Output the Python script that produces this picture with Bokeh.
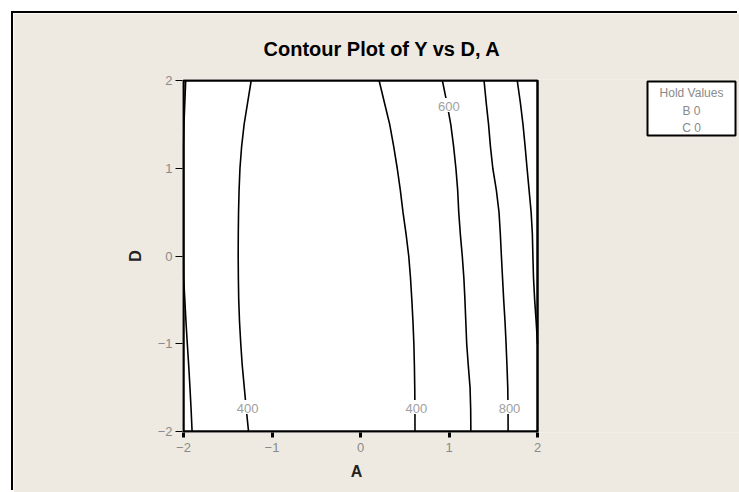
import numpy as np
from bokeh.plotting import figure
from bokeh.models import Label, FixedTicker, Range1d, ColumnDataSource, Title
from bokeh.core.properties import value
from bokeh.embed import file_html
from bokeh.resources import INLINE

# Contours of the fitted response Y over factors A (x) and D (y); B and C held at 0.
d_grid = [2.0, 1.75, 1.5, 1.25, 1.0, 0.75, 0.5, 0.25, 0.0,
          -0.25, -0.5, -0.75, -1.0, -1.25, -1.5, -1.75, -2.0]

a_600_left = [-1.975, -1.985, -1.995, -2.003, -2.008, -2.010, -2.010, -2.008, -2.004,
              -1.998, -1.985, -1.972, -1.957, -1.941, -1.927, -1.914, -1.903]
a_400_left = [-1.235, -1.275, -1.315, -1.343, -1.362, -1.372, -1.378, -1.381, -1.382,
              -1.380, -1.376, -1.367, -1.353, -1.336, -1.313, -1.290, -1.265]
a_400_right = [0.210, 0.270, 0.330, 0.375, 0.415, 0.450, 0.480, 0.515, 0.545,
               0.565, 0.580, 0.593, 0.603, 0.609, 0.613, 0.615, 0.616]
a_600_right = [0.925, 0.975, 1.020, 1.052, 1.078, 1.098, 1.110, 1.128, 1.150,
               1.168, 1.180, 1.190, 1.200, 1.218, 1.238, 1.245, 1.247]
a_800 = [1.396, 1.420, 1.447, 1.468, 1.495, 1.535, 1.565, 1.580, 1.592,
         1.605, 1.618, 1.633, 1.645, 1.655, 1.664, 1.667, 1.668]
# the 1000 contour leaves the region through the right edge near D = -1
a_1000 = [1.771, 1.806, 1.836, 1.860, 1.882, 1.905, 1.928, 1.942, 1.948,
          1.955, 1.968, 1.985, 2.000, None, None, None, None]

contour_levels = [600, 400, 400, 600, 800, 1000]
contour_a = [a_600_left, a_400_left, a_400_right, a_600_right, a_800, a_1000]

# which contours carry an inline level label, and at what D
labelled_contours = [1, 2, 3, 4]
label_d = [-1.72, -1.72, 1.72, -1.72]

a_ticks = [-2, -1, 0, 1, 2]
d_ticks = [-2, -1, 0, 1, 2]

hold_factors = ["B", "C"]
hold_values = [0, 0]

# ---- layout (pixels) ----
BG = "#EEEAE1"
FONT = "Liberation Sans"
FIG_W, FIG_H = 726, 479
PLOT_W, PLOT_H = 354, 351          # size of the A/D square in pixels
PAD = 1                            # frame slack so the square's border is not clipped
LEFT, TOP = 169, 66                # frame origin inside the figure
FRAME_W = FIG_W - LEFT             # frame runs on to the right edge (room for the box)
FRAME_H = PLOT_H + 2 * PAD
SX = PLOT_W / 4.0                  # pixels per unit of A
SY = PLOT_H / 4.0                  # pixels per unit of D

x_lo = -2 - PAD / SX
x_hi = x_lo + FRAME_W / SX
y_lo = -2 - PAD / SY
y_hi = y_lo + FRAME_H / SY

p = figure(width=FIG_W, height=FIG_H,
           x_range=Range1d(x_lo, x_hi), y_range=Range1d(y_lo, y_hi),
           output_backend="svg", toolbar_location=None,
           min_border_left=LEFT, min_border_right=0,
           min_border_top=TOP, min_border_bottom=FIG_H - TOP - FRAME_H,
           background_fill_color=BG, border_fill_color=BG,
           outline_line_color=None)
p.styles = {"margin-left": "13px", "margin-top": "13px",
            "box-shadow": "-2px -2px 0 0 #000000"}
p.grid.visible = False

# white plotting square with black border
p.quad(left=[-2], right=[2], bottom=[-2], top=[2],
       fill_color="white", line_color="black", line_width=2)

for a_vals in contour_a:
    a_arr = np.array([np.nan if v is None else v for v in a_vals], dtype=float)
    a_arr = np.clip(a_arr, -2, 2)
    src = ColumnDataSource(data=dict(a=a_arr, d=np.array(d_grid, dtype=float)))
    p.line("a", "d", source=src, line_color="black", line_width=1.6)

# redraw the square's border over the contour ends
p.quad(left=[-2], right=[2], bottom=[-2], top=[2],
       fill_color=None, line_color="black", line_width=2)

# inline contour labels, with a white box that breaks the line
d_inc = np.array(d_grid[::-1])
for idx, dl in zip(labelled_contours, label_d):
    a_vals = np.array([np.nan if v is None else v for v in contour_a[idx]][::-1])
    a_at = float(np.interp(dl, d_inc, a_vals))
    p.add_layout(Label(x=a_at, y=dl, text=str(contour_levels[idx]),
                       text_align="center", text_baseline="middle",
                       text_font=FONT, text_font_size="13px", text_color="#a0a0a0",
                       background_fill_color="white", padding=(4, 1, 4, 1)))

# axes: lines hidden (the square's border stands in for them)
p.xaxis.ticker = FixedTicker(ticks=a_ticks)
p.yaxis.ticker = FixedTicker(ticks=d_ticks)
p.yaxis.axis_label = "D"
for ax in (p.xaxis[0], p.yaxis[0]):
    ax.bounds = (-2, 2)
    ax.axis_line_color = None
    ax.minor_tick_line_color = None
    ax.major_tick_in = 0
    ax.major_tick_line_color = "black"
    ax.major_label_text_color = "#8a8a8a"
    ax.major_label_text_font = FONT
    ax.major_label_text_font_size = "13px"
    ax.axis_label_text_font = FONT
    ax.axis_label_text_font_style = "bold"
    ax.axis_label_text_font_size = "16px"
    ax.axis_label_text_color = "#222222"
p.xaxis.major_tick_out = 5
p.xaxis.major_tick_line_width = 3
p.xaxis.major_label_standoff = 5
p.yaxis.major_tick_out = 7
p.yaxis.major_tick_line_width = 1
p.yaxis.major_label_standoff = 3
p.yaxis.axis_label_standoff = 11

# x-axis name, set under the tick labels and centred on the square
A_W = 11.6  # approximate width of the bold "A"
p.add_layout(Title(text="A", align="left", vertical_align="top",
                   offset=PAD + PLOT_W / 2 - 4 - A_W / 2, standoff=16,
                   text_font=FONT, text_font_style="bold", text_font_size="16px",
                   text_color="#222222"), "below")

# chart title
p.title.text = "Contour Plot of Y vs D, A"
p.title.align = "left"
p.title.vertical_align = "bottom"
p.title.offset = 81
p.title.standoff = 40
p.title.text_font = FONT
p.title.text_font_style = "bold"
p.title.text_font_size = "20px"
p.title.text_color = "black"

# hold-values box to the right of the square
BOX_GAP, BOX_W, BOX_TOP, BOX_H = 110, 88, 1, 54
bx0 = 2 + BOX_GAP / SX
bx1 = bx0 + BOX_W / SX
by1 = 2 - BOX_TOP / SY
by0 = by1 - BOX_H / SY
p.quad(left=[bx0], right=[bx1], bottom=[by0], top=[by1],
       fill_color="white", line_color="black", line_width=2)
hold_lines = ["Hold Values"] + [f"{f} {v}" for f, v in zip(hold_factors, hold_values)]
line_offsets = [11, 29, 46]
p.text(x=[(bx0 + bx1) / 2] * len(hold_lines),
       y=[by1 - off / SY for off in line_offsets],
       text=hold_lines, text_align="center", text_baseline="middle",
       text_font=value(FONT), text_font_size="12px", text_color="#8a8a8a")

open("out.html", "w").write(file_html(p, INLINE))
